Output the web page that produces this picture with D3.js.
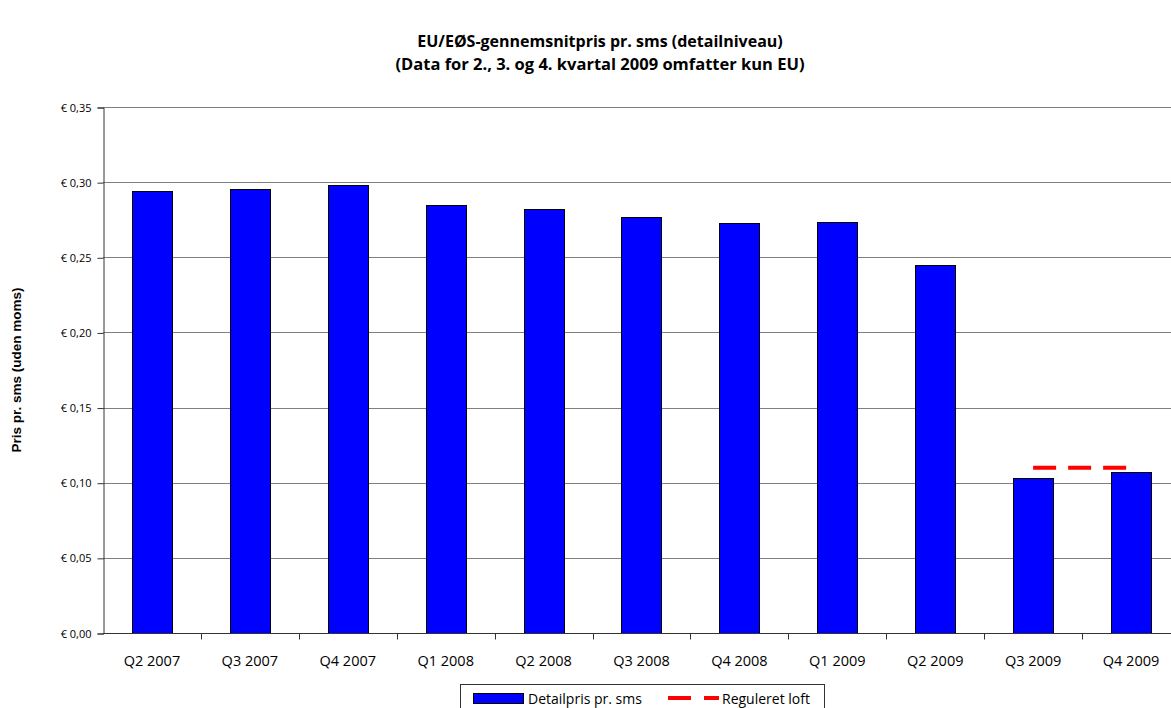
<!DOCTYPE html>
<html>
<head>
<meta charset="utf-8">
<script src="https://cdn.jsdelivr.net/npm/d3@7"></script>
<style>
  body { margin: 0; background: #fff; }
  svg { display: block; }
</style>
</head>
<body>
<div id="chart"></div>
<script>
// chart data
var quarters = ["Q2 2007", "Q3 2007", "Q4 2007", "Q1 2008", "Q2 2008", "Q3 2008",
                "Q4 2008", "Q1 2009", "Q2 2009", "Q3 2009", "Q4 2009"];
var prices = [0.294, 0.2955, 0.298, 0.285, 0.282, 0.2765, 0.2725, 0.2735, 0.245, 0.103, 0.107];
var capQuarters = ["Q3 2009", "Q4 2009"];
var capValues = [0.11, 0.11];
var yTicks = [0, 0.05, 0.10, 0.15, 0.20, 0.25, 0.30, 0.35];

var width = 1171, height = 708;
var plotLeft = 103, plotRight = 1180, plotTop = 107, plotBottom = 633;
var font = '"Open Sans", sans-serif';

var svg = d3.select('#chart').append('svg')
    .attr('width', width)
    .attr('height', height);

var x = d3.scaleBand().domain(quarters).range([plotLeft, plotRight]).paddingInner(0.59).paddingOuter(0.295);
var y = d3.scaleLinear().domain([0, 0.35]).range([plotBottom, plotTop]);

// title
svg.append('text')
    .attr('x', 600).attr('y', 47)
    .attr('text-anchor', 'middle')
    .style('font-family', font).style('font-weight', 'bold').style('font-size', '16px')
    .text('EU/EØS-gennemsnitpris pr. sms (detailniveau)');
svg.append('text')
    .attr('x', 600).attr('y', 70)
    .attr('text-anchor', 'middle')
    .style('font-family', font).style('font-weight', 'bold').style('font-size', '16.5px')
    .text('(Data for 2., 3. og 4. kvartal 2009 omfatter kun EU)');

// gridlines
svg.append('g').selectAll('line')
    .data(yTicks.filter(d => d > 0))
    .enter().append('line')
    .attr('x1', plotLeft).attr('x2', plotRight)
    .attr('y1', d => Math.round(y(d)) + 0.5).attr('y2', d => Math.round(y(d)) + 0.5)
    .attr('stroke', '#808080').attr('stroke-width', 1);

// bars
svg.append('g').selectAll('rect')
    .data(prices)
    .enter().append('rect')
    .attr('x', (d, i) => Math.round(x(quarters[i])) + 0.5)
    .attr('y', d => Math.round(y(d)) + 0.5)
    .attr('width', Math.round(x.bandwidth()))
    .attr('height', d => Math.round(y(0)) - Math.round(y(d)))
    .attr('fill', '#0000ff')
    .attr('stroke', '#000').attr('stroke-width', 1);

// regulated cap line
var line = d3.line()
    .x((d, i) => x(capQuarters[i]) + x.bandwidth() / 2)
    .y(d => y(d));
svg.append('path')
    .datum(capValues)
    .attr('d', line)
    .attr('fill', 'none')
    .attr('stroke', '#ff0000')
    .attr('stroke-width', 4)
    .attr('stroke-dasharray', '23,12');

// y axis
var yAxis = d3.axisLeft(y)
    .tickValues(yTicks)
    .tickSize(6)
    .tickPadding(6)
    .tickFormat(d => '€ ' + d3.format('.2f')(d).replace('.', ','));
var gy = svg.append('g').attr('transform', 'translate(' + (plotLeft + 0.5) + ',0.5)').call(yAxis);
gy.select('.domain').attr('stroke', '#333');
gy.selectAll('line').attr('stroke', '#333');
gy.selectAll('text')
    .style('font-family', font).style('font-size', '11px').attr('fill', '#000');

// x axis
var gx = svg.append('g').attr('transform', 'translate(0,' + (Math.round(y(0)) + 0.5) + ')');
gx.append('line').attr('x1', plotLeft).attr('x2', plotRight).attr('stroke', '#333');
gx.selectAll('.tk')
    .data(quarters.slice(1))
    .enter().append('line')
    .attr('class', 'tk')
    .attr('x1', d => Math.round(x(d) - x.step() * x.paddingInner() / 2) + 0.5)
    .attr('x2', d => Math.round(x(d) - x.step() * x.paddingInner() / 2) + 0.5)
    .attr('y1', 0).attr('y2', 6)
    .attr('stroke', '#333');
gx.selectAll('.lbl')
    .data(quarters)
    .enter().append('text')
    .attr('class', 'lbl')
    .attr('x', d => x(d) + x.bandwidth() / 2)
    .attr('y', 32)
    .attr('text-anchor', 'middle')
    .style('font-family', font).style('font-size', '14.5px')
    .text(d => d);

// y axis title
svg.append('text')
    .attr('transform', 'translate(21,370) rotate(-90)')
    .attr('text-anchor', 'middle')
    .style('font-family', '"Liberation Sans", Arial, sans-serif').style('font-weight', 'bold').style('font-size', '13.5px')
    .text('Pris pr. sms (uden moms)');

// legend
var lg = svg.append('g');
lg.append('rect')
    .attr('x', 460.5).attr('y', 684.5).attr('width', 364).attr('height', 30)
    .attr('fill', '#fff').attr('stroke', '#333');
lg.append('rect')
    .attr('x', 473.5).attr('y', 693.5).attr('width', 50).attr('height', 10)
    .attr('fill', '#0000ff').attr('stroke', '#000');
lg.append('text')
    .attr('x', 528).attr('y', 704)
    .style('font-family', font).style('font-size', '14px')
    .text('Detailpris pr. sms');
lg.append('line')
    .attr('x1', 668).attr('x2', 719).attr('y1', 698).attr('y2', 698)
    .attr('stroke', '#ff0000').attr('stroke-width', 4)
    .attr('stroke-dasharray', '23,13');
lg.append('text')
    .attr('x', 722).attr('y', 704)
    .style('font-family', font).style('font-size', '14px')
    .text('Reguleret loft');
</script>
</body>
</html>
